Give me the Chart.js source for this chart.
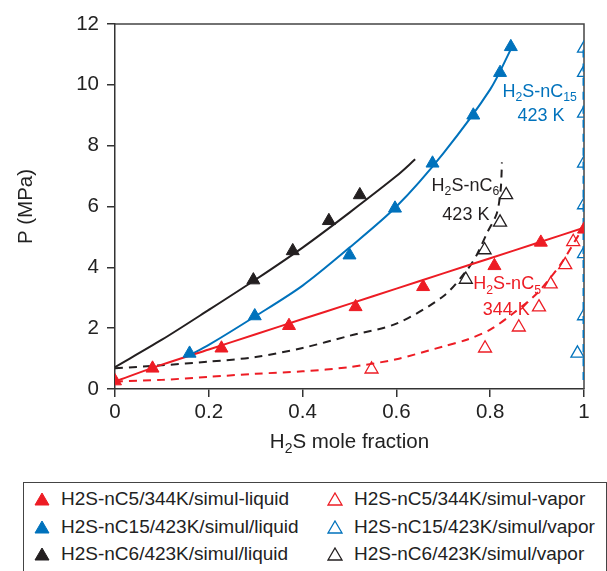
<!DOCTYPE html>
<html>
<head>
<meta charset="utf-8">
<script src="https://cdn.jsdelivr.net/npm/chart.js@4.4.0/dist/chart.umd.min.js"></script>
<style>
  html, body { margin: 0; padding: 0; background: #fff; }
  #wrap { position: relative; width: 607px; height: 571px; overflow: hidden;
          font-family: "Liberation Sans", Arial, sans-serif; }
  #box { position: absolute; left: 0; top: 0; width: 607px; height: 480px; }
  #legend { position: absolute; left: 23px; top: 482px; width: 584px; height: 120px;
            border: 1.5px solid #444; box-sizing: border-box; }
  .item { position: absolute; font-size: 19px; color: #222; white-space: nowrap;
          line-height: 20px; height: 20px; }
  .item svg { position: absolute; left: -27px; top: 3px; }
</style>
</head>
<body>
<div id="wrap">
  <div id="box"><canvas id="chart"></canvas></div>
  <div id="legend"></div>
</div>
<script>
// Axis ticks
const xTicks = [0, 0.2, 0.4, 0.6, 0.8, 1];
const yTicks = [0, 2, 4, 6, 8, 10, 12];

// H2S-nC5 / 344 K
const nc5LiqX = [0, 0.08, 0.227, 0.371, 0.513, 0.657, 0.809, 0.908, 1.0];
const nc5LiqP = [0.26, 0.68, 1.34, 2.08, 2.7, 3.36, 4.05, 4.82, 5.25];
const nc5VapX = [0.547, 0.789, 0.861, 0.904, 0.929, 0.960, 0.977];
const nc5VapP = [0.65, 1.34, 2.03, 2.69, 3.45, 4.08, 4.84];
const nc5LiqCurveX = [0, 0.1, 0.2, 0.3, 0.4, 0.5, 0.6, 0.7, 0.8, 0.9, 1.0];
const nc5LiqCurveP = [0.25, 0.8, 1.3, 1.8, 2.3, 2.8, 3.3, 3.8, 4.3, 4.8, 5.3];
const nc5VapCurveX = [0, 0.1, 0.2, 0.3, 0.4, 0.5, 0.6, 0.7, 0.75, 0.8, 0.85, 0.9, 0.95, 0.99];
const nc5VapCurveP = [0.25, 0.3, 0.4, 0.5, 0.58, 0.72, 0.98, 1.4, 1.62, 1.95, 2.5, 3.15, 4.1, 5.1];

// H2S-nC15 / 423 K
const nc15LiqX = [0.159, 0.298, 0.5, 0.597, 0.677, 0.764, 0.821, 0.844];
const nc15LiqP = [1.17, 2.40, 4.40, 5.94, 7.42, 9.0, 10.4, 11.25];
const nc15VapX = [0.986, 1, 1, 1, 1, 1, 1, 1];
const nc15VapP = [1.17, 2.4, 4.44, 6.05, 7.42, 9.06, 10.4, 11.2];
const nc15LiqCurveX = [0.16, 0.2, 0.3, 0.4, 0.5, 0.6, 0.7, 0.8, 0.845];
const nc15LiqCurveP = [1.12, 1.45, 2.4, 3.4, 4.65, 6.0, 7.75, 9.85, 11.2];
const nc15VapCurveX = [0.999, 0.999];
const nc15VapCurveP = [0.3, 11.25];

// H2S-nC6 / 423 K
const nc6LiqX = [0.295, 0.379, 0.456, 0.522];
const nc6LiqP = [3.58, 4.54, 5.53, 6.38];
const nc6VapX = [0.748, 0.788, 0.821, 0.834];
const nc6VapP = [3.6, 4.57, 5.48, 6.38];
const nc6LiqCurveX = [0, 0.1, 0.2, 0.3, 0.4, 0.5, 0.6, 0.64];
const nc6LiqCurveP = [0.72, 1.62, 2.6, 3.6, 4.65, 5.8, 7.0, 7.55];
const nc6VapCurveX = [0, 0.1, 0.2, 0.3, 0.4, 0.5, 0.6, 0.7, 0.75, 0.771, 0.793, 0.814, 0.822, 0.824, 0.825];
const nc6VapCurveP = [0.68, 0.78, 0.9, 1.05, 1.35, 1.75, 2.15, 3.05, 3.9, 4.4, 5.12, 5.77, 6.5, 7.0, 7.45];

// legend names (row by row, liquid | vapor)
const seriesNames = [
  'H2S-nC5/344K/simul-liquid', 'H2S-nC5/344K/simul-vapor',
  'H2S-nC15/423K/simul/liquid', 'H2S-nC15/423K/simul/vapor',
  'H2S-nC6/423K/simul/liquid', 'H2S-nC6/423K/simul/vapor'
];

const RED = 'rgb(237, 28, 36)';
const BLUE = 'rgb(0, 114, 188)';
const BLACK = '#231f20';
const FONT = '"Liberation Sans", Arial, sans-serif';

const zip = (xs, ys) => xs.map((x, i) => ({ x, y: ys[i] }));

function curve(xs, ys, color, dashed) {
  return {
    data: zip(xs, ys), showLine: true, pointRadius: 0, borderColor: color,
    borderWidth: 2, borderDash: dashed ? [8, 6] : [], tension: 0.3, order: 5
  };
}
function marks(xs, ys, color, filled) {
  return {
    data: zip(xs, ys), showLine: false, pointStyle: 'triangle', pointRadius: 7.5,
    pointBorderColor: color, pointBackgroundColor: filled ? color : 'rgba(255,255,255,0)',
    pointBorderWidth: filled ? 1 : 1.3, order: 1
  };
}

// annotation labels: [x, y, parts, color]
const labels = [
  [0.826, 9.61, [['H'], ['2', 1], ['S-nC'], ['15', 1]], BLUE],
  [0.858, 8.81, [['423 K']], BLUE],
  [0.675, 6.52, [['H'], ['2', 1], ['S-nC'], ['6', 1]], BLACK],
  [0.698, 5.56, [['423 K']], BLACK],
  [0.764, 3.28, [['H'], ['2', 1], ['S-nC'], ['5', 1]], RED],
  [0.784, 2.43, [['344 K']], RED]
];

function drawRich(ctx, x, y, parts, color, size, center) {
  const sub = size * 0.68;
  let w = 0;
  parts.forEach(p => {
    ctx.font = (p[1] ? sub : size) + 'px ' + FONT;
    w += ctx.measureText(p[0]).width;
  });
  let cx = center ? x - w / 2 : x;
  ctx.fillStyle = color;
  ctx.textBaseline = 'alphabetic';
  ctx.textAlign = 'left';
  parts.forEach(p => {
    ctx.font = (p[1] ? sub : size) + 'px ' + FONT;
    ctx.fillText(p[0], cx, p[1] ? y + size * 0.25 : y);
    cx += ctx.measureText(p[0]).width;
  });
}

const extras = {
  id: 'extras',
  beforeDatasetsDraw(chart) {
    // frame top + right, under the data
    const { ctx, chartArea: a } = chart;
    ctx.save();
    ctx.strokeStyle = '#444';
    ctx.lineWidth = 1.5;
    ctx.beginPath();
    ctx.moveTo(a.left, a.top);
    ctx.lineTo(a.right, a.top);
    ctx.lineTo(a.right, a.bottom);
    ctx.stroke();
    ctx.restore();
  },
  afterDraw(chart) {
    const { ctx, chartArea: a, scales } = chart;
    ctx.save();
    labels.forEach(l => {
      drawRich(ctx, scales.x.getPixelForValue(l[0]), scales.y.getPixelForValue(l[1]), l[2], l[3], 18, false);
    });
    // x axis title
    drawRich(ctx, (a.left + a.right) / 2, 448, [['H'], ['2', 1], ['S mole fraction']], '#222', 20.5, true);
    ctx.restore();
  }
};

new Chart(document.getElementById('chart'), {
  type: 'scatter',
  data: {
    datasets: [
      marks(nc5LiqX, nc5LiqP, RED, true),
      marks(nc5VapX, nc5VapP, RED, false),
      marks(nc15LiqX, nc15LiqP, BLUE, true),
      marks(nc15VapX, nc15VapP, BLUE, false),
      marks(nc6LiqX, nc6LiqP, BLACK, true),
      marks(nc6VapX, nc6VapP, BLACK, false),
      curve(nc5LiqCurveX, nc5LiqCurveP, RED, false),
      curve(nc5VapCurveX, nc5VapCurveP, RED, true),
      curve(nc15LiqCurveX, nc15LiqCurveP, BLUE, false),
      curve(nc15VapCurveX, nc15VapCurveP, BLUE, true),
      curve(nc6LiqCurveX, nc6LiqCurveP, BLACK, false),
      curve(nc6VapCurveX, nc6VapCurveP, BLACK, true)
    ]
  },
  options: {
    responsive: true,
    maintainAspectRatio: false,
    animation: false,
    layout: { padding: { left: 0, right: 23, top: 24, bottom: 0 } },
    plugins: { legend: { display: false }, tooltip: { enabled: false } },
    scales: {
      x: {
        type: 'linear', min: 0, max: 1,
        afterBuildTicks: s => { s.ticks = xTicks.map(v => ({ value: v })); },
        afterFit: s => { s.height = 91; },
        ticks: { callback: v => String(v), autoSkip: false, maxRotation: 0, padding: 3,
                 color: '#222', font: { size: 20.5, family: FONT } },
        grid: { drawOnChartArea: false, drawTicks: true, tickLength: 8, color: '#333', lineWidth: 1.5 },
        border: { display: true, color: '#333', width: 1.5 }
      },
      y: {
        type: 'linear', min: 0, max: 12,
        afterBuildTicks: s => { s.ticks = yTicks.map(v => ({ value: v })); },
        afterFit: s => { s.width = 115; },
        ticks: { callback: v => String(v), autoSkip: false, padding: 8,
                 color: '#222', font: { size: 20.5, family: FONT } },
        grid: { drawOnChartArea: false, drawTicks: true, tickLength: 8, color: '#333', lineWidth: 1.5 },
        border: { display: true, color: '#333', width: 1.5 },
        title: { display: true, text: 'P (MPa)', color: '#222', padding: { top: 14, bottom: 0 },
                 font: { size: 20.5, family: FONT } }
      }
    }
  },
  plugins: [extras]
});

// HTML legend, two columns
const legendColors = [RED, BLUE, BLACK];
const legend = document.getElementById('legend');
seriesNames.forEach((name, i) => {
  const row = Math.floor(i / 2), col = i % 2;
  const filled = col === 0;
  const c = legendColors[row];
  const el = document.createElement('div');
  el.className = 'item';
  el.style.left = (col === 0 ? 37 : 330) + 'px';
  el.style.top = (6 + row * 27.5) + 'px';
  el.innerHTML = '<svg width="16" height="14" viewBox="0 0 16 14"><polygon points="8,1 15,13 1,13" fill="' +
    (filled ? c : 'none') + '" stroke="' + c + '" stroke-width="' + (filled ? 1 : 1.3) + '"/></svg>' + name;
  legend.appendChild(el);
});
</script>
</body>
</html>
